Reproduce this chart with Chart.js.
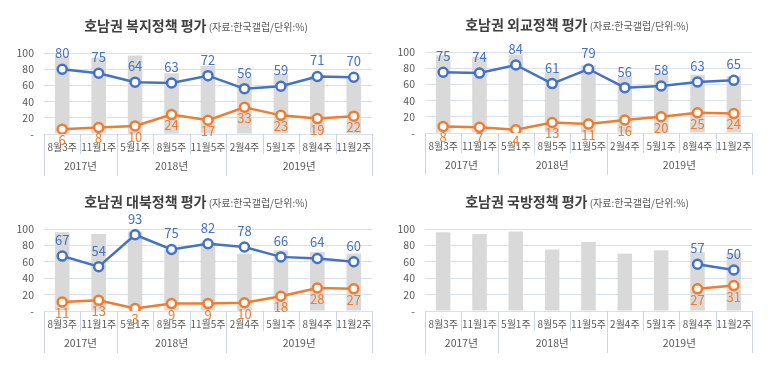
<!DOCTYPE html>
<html><head><meta charset="utf-8">
<script src="https://cdn.jsdelivr.net/npm/chart.js@4.4.0/dist/chart.umd.min.js"></script>
<style>
body{margin:0;background:#fff;width:773px;height:369px;position:relative;overflow:hidden}
.p{position:absolute}
</style></head><body>
<div class="p" style="left:0;top:0"><canvas id="c1" width="386" height="184"></canvas></div>
<div class="p" style="left:386px;top:0"><canvas id="c2" width="387" height="184"></canvas></div>
<div class="p" style="left:0;top:184px"><canvas id="c3" width="386" height="185"></canvas></div>
<div class="p" style="left:386px;top:184px"><canvas id="c4" width="387" height="185"></canvas></div>
<script>
const categories = ['8월3주','11월1주','5월1주','8월5주','11월5주','2월4주','5월1주','8월4주','11월2주'];
const years = ['2017년','2018년','2019년'];
const yearSpans = [2,3,4];
const barValues = [96,94,97,75,84,70,74,72,70];

const welfarePos = [80,75,64,63,72,56,59,71,70];
const welfareNeg = [6,8,10,24,17,33,23,19,22];
const diplomacyPos = [75,74,84,61,79,56,58,63,65];
const diplomacyNeg = [8,7,4,13,11,16,20,25,24];
const northPos = [67,54,93,75,82,78,66,64,60];
const northNeg = [11,13,3,9,9,10,18,28,27];
const defensePos = [null,null,null,null,null,null,null,57,50];
const defenseNeg = [null,null,null,null,null,null,null,27,31];

const titles = ['호남권 복지정책 평가','호남권 외교정책 평가','호남권 대북정책 평가','호남권 국방정책 평가'];
const subtitle = ' (자료:한국갤럽/단위:%)';

const FONT = '"Noto Sans CJK KR", "Noto Sans", sans-serif';
const GRID = '#d9e0ea';
const SEP = '#cdd5e2';
const BLUE = '#4472c4';
const ORANGE = '#ed7d31';
const TEXT = '#595959';

function makeChart(id, title, pos, neg, box) {
  const decor = {
    id: 'decor',
    afterDatasetsDraw(chart) {
      const ctx = chart.ctx;
      ctx.save();
      ctx.font = '13px ' + FONT;
      ctx.textAlign = 'center';
      ctx.textBaseline = 'middle';
      [[1, BLUE, -16], [2, ORANGE, 11]].forEach(([di, col, off]) => {
        const meta = chart.getDatasetMeta(di);
        const data = chart.data.datasets[di].data;
        ctx.fillStyle = col;
        meta.data.forEach((pt, i) => {
          if (data[i] == null) return;
          ctx.fillText(String(data[i]), pt.x, pt.y + off);
        });
      });
      ctx.restore();
    },
    afterDraw(chart) {
      const ctx = chart.ctx, xs = chart.scales.x, a = chart.chartArea;
      const n = categories.length;
      const edge = i => i === 0 ? a.left : i === n ? a.right : (xs.getPixelForValue(i - 1) + xs.getPixelForValue(i)) / 2;
      const groupB = new Set([0]);
      let acc = 0;
      yearSpans.forEach(s => { acc += s; groupB.add(acc); });
      ctx.save();
      ctx.strokeStyle = SEP;
      ctx.lineWidth = 1;
      for (let i = 0; i <= n; i++) {
        const px = Math.round(edge(i)) + 0.5;
        const yEnd = groupB.has(i) ? a.bottom + 42 : a.bottom + 20;
        ctx.beginPath(); ctx.moveTo(px, a.bottom); ctx.lineTo(px, yEnd); ctx.stroke();
      }
      ctx.fillStyle = TEXT;
      ctx.font = '10.5px ' + FONT;
      ctx.textAlign = 'center';
      ctx.textBaseline = 'middle';
      let start = 0;
      years.forEach((y, k) => {
        const end = start + yearSpans[k];
        ctx.fillText(y, (edge(start) + edge(end)) / 2, a.bottom + 32);
        start = end;
      });
      // title
      ctx.font = 'bold 14px ' + FONT;
      const w1 = ctx.measureText(title).width;
      ctx.font = '10px ' + FONT;
      const w2 = ctx.measureText(subtitle).width;
      const x0 = box.titleX - (w1 + w2) / 2;
      ctx.textAlign = 'left';
      ctx.fillStyle = '#404040';
      ctx.font = 'bold 14px ' + FONT;
      ctx.fillText(title, x0, box.titleY);
      ctx.font = '10px ' + FONT;
      ctx.fillStyle = '#595959';
      ctx.fillText(subtitle, x0 + w1, box.titleY + 1);
      ctx.restore();
    }
  };
  return new Chart(document.getElementById(id), {
    type: 'bar',
    data: {
      labels: categories,
      datasets: [
        { type: 'bar', data: barValues, backgroundColor: '#d9d9d9', barPercentage: 0.4, categoryPercentage: 1, order: 10 },
        { type: 'line', data: pos, borderColor: BLUE, borderWidth: 2.5, pointRadius: 4.5, pointBorderWidth: 2.5,
          pointBackgroundColor: '#fff', pointBorderColor: BLUE, order: 1, spanGaps: false },
        { type: 'line', data: neg, borderColor: ORANGE, borderWidth: 2.5, pointRadius: 4.5, pointBorderWidth: 2.5,
          pointBackgroundColor: '#fff', pointBorderColor: ORANGE, order: 2, spanGaps: false }
      ]
    },
    options: {
      responsive: false,
      animation: false,
      layout: { padding: { left: 0, right: box.w - box.right, top: box.top, bottom: box.h - box.bottom - 50 } },
      plugins: { legend: { display: false }, tooltip: { enabled: false }, title: { display: false } },
      scales: {
        x: {
          grid: { display: false, drawTicks: false },
          border: { display: false },
          ticks: { color: TEXT, font: { family: FONT, size: 10 }, padding: 7, autoSkip: false, maxRotation: 0 },
          afterFit: s => { s.height = 50; }
        },
        y: {
          min: 0, max: 100,
          grid: { color: GRID, drawTicks: false },
          border: { display: false },
          ticks: { stepSize: 20, color: TEXT, padding: 10, font: { family: FONT, size: 10.5 },
            callback: v => v === 0 ? '-' : v },
          afterFit: s => { s.width = box.left; }
        }
      }
    },
    plugins: [decor]
  });
}

makeChart('c1', titles[0], welfarePos, welfareNeg, { w: 386, h: 184, left: 44, right: 372, top: 53, bottom: 134, titleX: 196, titleY: 26 });
makeChart('c2', titles[1], diplomacyPos, diplomacyNeg, { w: 387, h: 184, left: 39, right: 366, top: 52, bottom: 133, titleX: 191, titleY: 25 });
makeChart('c3', titles[2], northPos, northNeg, { w: 386, h: 185, left: 44, right: 372, top: 45, bottom: 127, titleX: 196, titleY: 18 });
makeChart('c4', titles[3], defensePos, defenseNeg, { w: 387, h: 185, left: 39, right: 366, top: 45, bottom: 127, titleX: 191, titleY: 18 });
</script>
</body></html>
